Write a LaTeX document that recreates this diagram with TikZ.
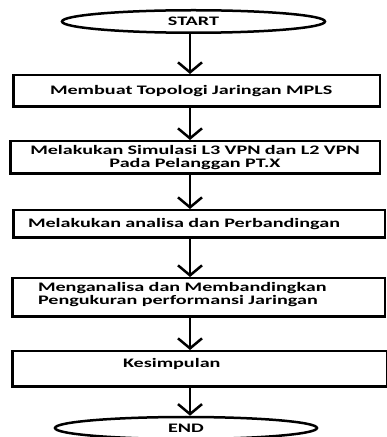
\documentclass[tikz,border=0pt]{standalone}
\usepackage{fontspec}
\setmainfont{Carlito}[FakeStretch=1.55]
\usetikzlibrary{shapes.geometric,arrows.meta}

\begin{document}
\begin{tikzpicture}[x=1pt,y=1pt,
    font=\fontsize{13}{13}\selectfont\bfseries,
    terminal/.style={ellipse, draw, line width=2.5pt, inner sep=0pt},
    process/.style={rectangle, draw, line width=2.5pt, inner sep=0pt},
    flow/.style={-{Straight Barb[length=10pt,width=24pt]}, line width=2.5pt}]
      \useasboundingbox (0,0) rectangle (387,437);
      \coordinate (spine) at (190,0);

      \node[terminal, minimum width=263pt, minimum height=22.5pt] (start) at (193.5,415.5) {START};
      \node[process, minimum width=366.5pt, minimum height=31.5pt, text width=293pt, align=left] (mpls) at (196.5,346) {Membuat Topologi Jaringan MPLS};
      \node[process, minimum width=369.5pt, minimum height=32.5pt, text width=340pt, align=center] (simulasi) at (195,279.5) {Melakukan Simulasi L3 VPN dan L2 VPN\\Pada Pelanggan PT.X};
      \node[process, minimum width=371.5pt, minimum height=27.5pt, text width=342pt, align=left] (analisa) at (199,213) {Melakukan analisa dan Perbandingan};
      \node[process, minimum width=372.5pt, minimum height=38.5pt, text width=321pt, align=left, text depth=21pt] (ukur) at (198.5,139.5) {Menganalisa dan Membandingkan\\Pengukuran performansi Jaringan};
      \node[process, minimum width=374.5pt, minimum height=35.5pt, text width=153pt, align=left, text depth=12pt] (simpul) at (199.5,68) {Kesimpulan};
      \node[terminal, minimum width=262pt, minimum height=22pt] (stop) at (186,9) {END};

      \draw[flow] (start.south -| spine) -- (mpls.north -| spine);
      \draw[flow] (mpls.south -| spine) -- (simulasi.north -| spine);
      \draw[flow] (simulasi.south -| spine) -- (analisa.north -| spine);
      \draw[flow] (analisa.south -| spine) -- (ukur.north -| spine);
      \draw[flow] (ukur.south -| spine) -- (simpul.north -| spine);
      \draw[flow] (simpul.south -| spine) -- (stop.north -| spine);
    \end{tikzpicture}
\end{document}
